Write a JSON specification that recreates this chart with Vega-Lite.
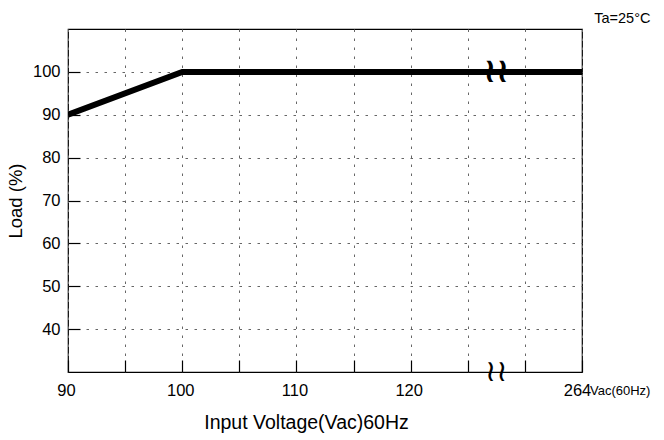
{
  "$schema": "https://vega.github.io/schema/vega-lite/v6.json",
  "autosize": "none",
  "width": 514,
  "height": 343,
  "padding": {"left": 68, "top": 29, "right": 82, "bottom": 68},
  "background": "white",
  "title": {"text": "Ta=25°C", "anchor": "end", "fontSize": 14.5, "fontWeight": "normal", "font": "Liberation Sans", "color": "black", "offset": 3},
  "config": {
    "view": {"stroke": "black", "strokeWidth": 1.2},
    "font": "Liberation Sans",
    "axis": {
      "labelFont": "Liberation Sans", "titleFont": "Liberation Sans",
      "labelColor": "black", "titleColor": "black", "titleFontWeight": "normal",
      "domain": false, "tickColor": "black", "tickWidth": 1.2,
      "gridColor": "#666", "gridDash": [2.5, 6.5], "gridWidth": 1
    }
  },
  "datasets": {
    "curve": [
      {"v": 90, "load": 90},
      {"v": 100, "load": 100},
      {"v": 135, "load": 100}
    ],
    "breaks": [
      {"v": 127.5, "load": 100}
    ],
    "axisbreak": [
      {"v": 127.5, "load": 30}
    ],
    "unit": [
      {"v": 135, "load": 30, "t": "Vac(60Hz)"}
    ]
  },
  "layer": [
    {
      "data": {"name": "curve"},
      "mark": {"type": "line", "color": "black", "strokeWidth": 6, "strokeCap": "butt", "clip": true},
      "encoding": {
        "x": {
          "field": "v", "type": "quantitative",
          "scale": {"domain": [90, 135], "nice": false, "zero": false},
          "axis": {
            "values": [90, 95, 100, 105, 110, 115, 120, 125, 130, 135],
            "labelExpr": "datum.value == 135 ? '264' : (datum.value % 10 == 0 && datum.value <= 120 ? datum.label : '')",
            "labelFontSize": 16.5, "labelPadding": 22,
            "labelOffset": {"condition": {"test": "datum.value == 135", "value": -5}, "value": -2},
            "tickSize": -12, "labelFlush": false, "labelOverlap": false,
            "title": "Input Voltage(Vac)60Hz", "titleFontSize": 19.5,
            "titleX": 238, "titleY": 50, "titleBaseline": "middle", "titleAnchor": "middle"
          }
        },
        "y": {
          "field": "load", "type": "quantitative",
          "scale": {"domain": [30, 110], "nice": false, "zero": false},
          "axis": {
            "values": [40, 50, 60, 70, 80, 90, 100],
            "labelFontSize": 16.5, "labelPadding": 20,
            "tickSize": -12,
            "title": "Load (%)", "titleFontSize": 18.5,
            "titleX": -53, "titleY": 171.5, "titleBaseline": "middle", "titleAnchor": "middle"
          }
        }
      }
    },
    {
      "data": {"name": "breaks"},
      "mark": {"type": "text", "text": "≀≀", "font": "DejaVu Sans", "fontSize": 34, "fontWeight": "bold", "color": "black", "baseline": "middle", "align": "center", "letterSpacing": -8},
      "encoding": {
        "x": {"field": "v", "type": "quantitative"},
        "y": {"field": "load", "type": "quantitative"}
      }
    },
    {
      "data": {"name": "axisbreak"},
      "mark": {"type": "text", "text": "≀≀", "font": "DejaVu Sans", "fontSize": 30, "color": "black", "baseline": "middle", "align": "center", "letterSpacing": -7, "clip": false},
      "encoding": {
        "x": {"field": "v", "type": "quantitative"},
        "y": {"field": "load", "type": "quantitative"}
      }
    },
    {
      "data": {"name": "unit"},
      "mark": {"type": "text", "font": "Liberation Sans", "fontSize": 13, "color": "black", "align": "left", "baseline": "alphabetic", "dx": 8, "dy": 23},
      "encoding": {
        "x": {"field": "v", "type": "quantitative"},
        "y": {"field": "load", "type": "quantitative"},
        "text": {"field": "t"}
      }
    }
  ]
}
